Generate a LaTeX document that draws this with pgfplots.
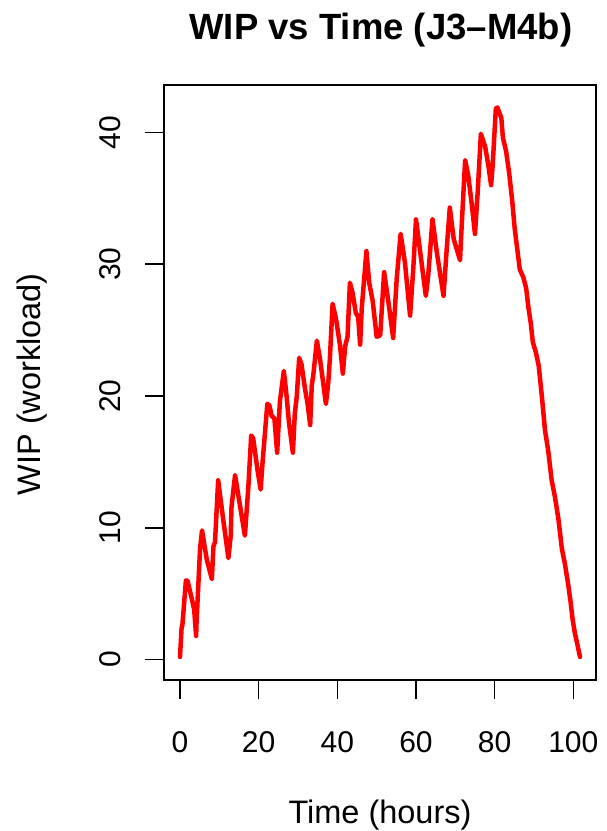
\documentclass[border=0pt]{standalone}
\usepackage{fontspec}
\setmainfont{Liberation Sans}
\usepackage{pgfplots}
\pgfplotsset{compat=1.18}
\begin{document}
\begin{tikzpicture}
\path[use as bounding box] (-164pt,-151pt) rectangle (442pt,680pt);
\begin{axis}[
  at={(0,0)}, anchor=south west,
  scale only axis, width=432pt, height=595pt,
  xmin=-4.07, xmax=105.77, ymin=-1.55, ymax=43.6,
  xtick={0,20,...,100}, ytick={0,10,...,40},
  tick align=outside, xtick pos=bottom, ytick pos=left,
  major tick length=19pt,
  axis line style={line width=1.5pt},
  every tick/.style={black, line width=1.5pt},
  /pgf/number format/assume math mode=true,
  tick label style={font=\fontsize{30}{35}\selectfont},
  xticklabel style={anchor=base, yshift=-53pt},
  yticklabel style={xshift=-24pt, rotate=90, anchor=base},
  xlabel={Time (hours)},
  ylabel={WIP (workload)},
  label style={font=\fontsize{32.5}{38}\selectfont},
  xlabel style={at={(axis description cs:0.5,-0.241)}, anchor=base},
  ylabel style={at={(axis description cs:-0.285,0.497)}, anchor=base, rotate=0},
  title={WIP vs Time (J3--M4b)},
  title style={font=\fontsize{36.5}{42}\selectfont\bfseries, at={(axis description cs:0.502,1.067)}, anchor=base},
]
\addplot[color={rgb,255:red,255;green,0;blue,0}, line width=4.5pt, line join=round, line cap=round] coordinates {
(0,0.2) (0.4,2.4) (0.6,2.6) (1.5,6.0) (1.9,6.0) (3.0,4.6) (3.6,3.8) (4.1,1.8) (4.2,2.8)
(5.1,8.4) (5.6,9.8) (6.8,7.6) (8.1,6.1) (8.5,8.6) (8.9,8.9) (9.7,13.6) (11.0,10.6)
(12.3,7.7) (12.9,9.4) (13.1,11.6) (14.0,14.0) (15.3,11.6) (16.5,9.4) (17.4,13.2)
(18.1,17.0) (18.6,16.8) (19.7,14.4) (20.5,12.9) (21.0,15.0) (22.2,19.4) (22.7,19.3)
(23.3,18.5) (24.0,18.3) (24.7,15.7) (25.4,19.6) (26.4,21.9) (27.1,20.0) (27.7,18.0)
(28.7,15.7) (29.2,18.7) (29.7,20.0) (30.3,22.9) (30.9,22.4) (31.8,20.5) (32.4,19.5)
(33.1,17.8) (33.5,20.8) (33.9,21.6) (34.8,24.2) (35.6,22.8) (36.4,21.0) (37.1,19.4)
(37.7,21.0) (38.1,22.8) (38.8,27.0) (39.7,25.8) (40.7,23.8) (41.4,21.7) (42.0,23.8)
(42.6,24.5) (43.2,28.6) (43.9,27.8) (44.7,26.3) (45.3,26.0) (45.8,23.9) (46.2,26.6)
(47.4,31.0) (48.1,28.6) (49.0,27.2) (50.0,24.5) (50.9,24.6) (51.9,29.4) (53.0,27.1)
(54.2,24.4) (55.1,28.9) (56.1,32.3) (57.2,30.1) (58.5,26.1) (59.3,29.6) (60.0,33.4)
(61.0,31.1) (62.5,27.6) (63.1,29.1) (64.2,33.4) (65.3,30.9) (67.0,27.6) (67.8,31.1)
(68.6,34.3) (69.6,31.9) (71.2,30.3) (71.6,32.8) (72.5,37.9) (73.3,36.7) (74.2,34.5)
(75.0,32.3) (75.7,35.5) (76.5,39.9) (77.6,38.9) (78.4,37.5) (79.1,36.0) (79.5,37.5)
(80.3,41.8) (80.7,41.9) (81.7,41.1) (82.1,39.6) (82.9,38.6) (83.7,36.9) (84.5,34.7)
(85.1,32.7) (85.9,30.8) (86.4,29.6) (87.3,29.0) (88.0,28.2) (88.6,26.7) (89.2,25.5)
(89.7,24.1) (90.5,23.3) (91.2,22.3) (92.0,20.0) (92.8,17.4) (93.6,15.9) (94.5,13.6)
(95.3,12.4) (96.2,10.7) (97.1,8.4) (97.9,7.2) (98.7,5.7) (99.3,4.4) (99.8,3.1)
(100.4,2.0) (101.0,1.2) (101.7,0.2)
};
\end{axis}
\end{tikzpicture}
\end{document}
